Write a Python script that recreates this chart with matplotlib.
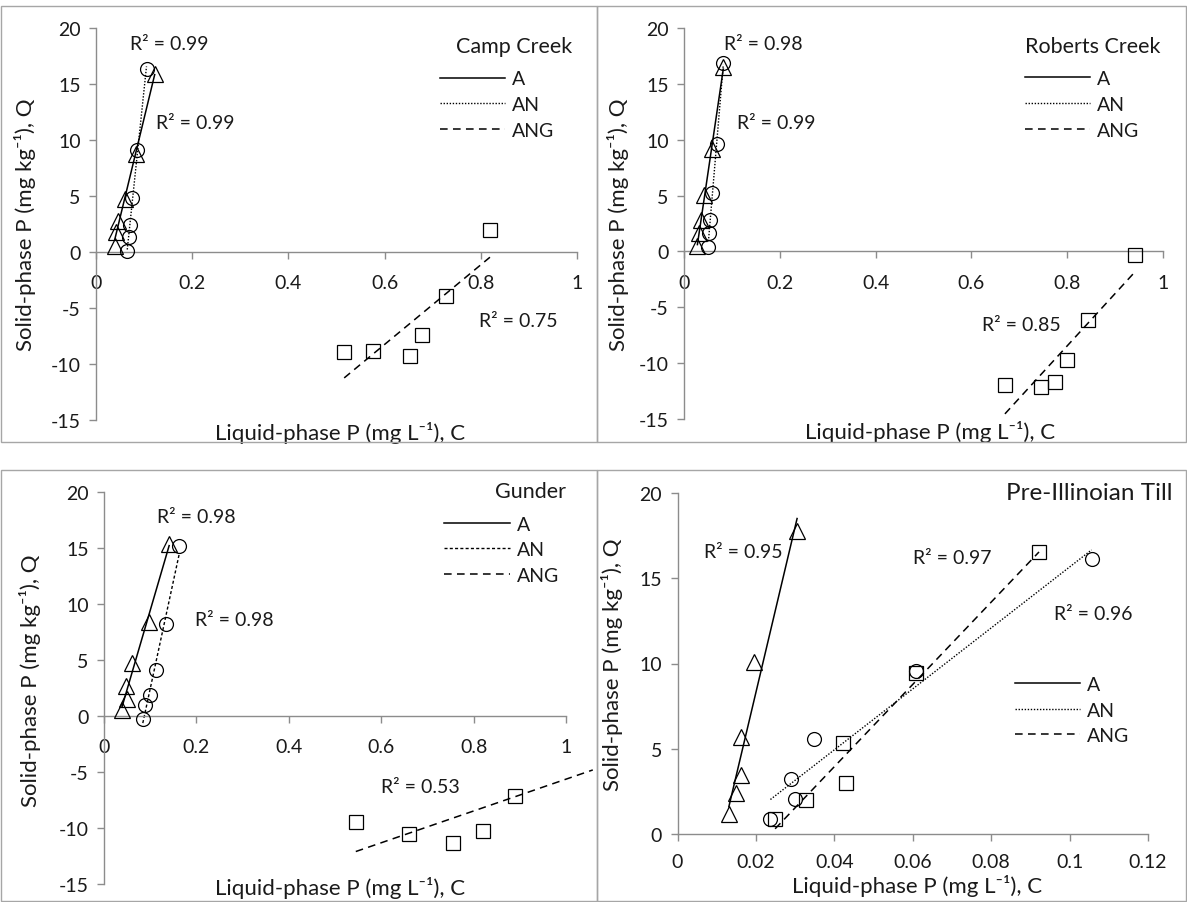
import numpy as np
import matplotlib
matplotlib.use("Agg")
import matplotlib.pyplot as plt
from matplotlib.patches import Rectangle
from matplotlib.lines import Line2D

plt.rcParams['font.family'] = ['Lato', 'DejaVu Sans']

# ---------------- data ----------------
series_names = ["A", "AN", "ANG"]

# Camp Creek
cc_A_C = [0.039, 0.041, 0.046, 0.060, 0.083, 0.122]
cc_A_Q = [0.57, 1.76, 2.80, 4.74, 8.76, 15.9]
cc_AN_C = [0.065, 0.069, 0.070, 0.075, 0.086, 0.105]
cc_AN_Q = [0.06, 1.31, 2.41, 4.80, 9.15, 16.3]
cc_ANG_C = [0.516, 0.575, 0.653, 0.678, 0.727, 0.819]
cc_ANG_Q = [-8.93, -8.84, -9.29, -7.41, -3.93, 1.96]
cc_r2 = ["R² = 0.99", "R² = 0.99", "R² = 0.75"]

# Roberts Creek
rc_A_C = [0.028, 0.031, 0.036, 0.042, 0.059, 0.082]
rc_A_Q = [0.45, 1.65, 2.85, 5.07, 9.15, 16.5]
rc_AN_C = [0.051, 0.052, 0.054, 0.059, 0.069, 0.082]
rc_AN_Q = [0.39, 1.65, 2.79, 5.19, 9.6, 16.9]
rc_ANG_C = [0.670, 0.746, 0.774, 0.799, 0.844, 0.941]
rc_ANG_Q = [-11.92, -12.13, -11.68, -9.73, -6.15, -0.33]
rc_r2 = ["R² = 0.98", "R² = 0.99", "R² = 0.85"]

# Gunder
gu_A_C = [0.039, 0.050, 0.048, 0.060, 0.097, 0.141]
gu_A_Q = [0.54, 1.5, 2.68, 4.76, 8.39, 15.4]
gu_AN_C = [0.084, 0.089, 0.0995, 0.112, 0.134, 0.163]
gu_AN_Q = [-0.27, 1.0, 1.90, 4.14, 8.24, 15.2]
gu_ANG_C = [0.545, 0.660, 0.755, 0.820, 0.890]
gu_ANG_Q = [-9.5, -10.5, -11.3, -10.3, -7.1]
# ANG trendline (slope, intercept); runs to the chart edge
gu_ANG_trend = (14.2, -19.84)
gu_r2 = ["R² = 0.98", "R² = 0.98", "R² = 0.53"]

# Pre-Illinoian Till
pi_A_C = [0.0131, 0.0149, 0.0162, 0.0162, 0.0195, 0.0305]
pi_A_Q = [1.15, 2.39, 3.44, 5.66, 10.06, 17.8]
pi_AN_C = [0.0237, 0.0300, 0.0289, 0.0348, 0.0608, 0.1056]
pi_AN_Q = [0.90, 2.07, 3.25, 5.56, 9.57, 16.1]
pi_ANG_C = [0.0249, 0.0329, 0.0430, 0.0421, 0.0608, 0.0922]
pi_ANG_Q = [0.90, 2.00, 2.97, 5.32, 9.43, 16.56]
pi_r2 = ["R² = 0.95", "R² = 0.96", "R² = 0.97"]

panel_titles = ["Camp Creek", "Roberts Creek", "Gunder", "Pre-Illinoian Till"]
xlabel = "Liquid-phase P (mg L\u207b\u00b9), C"
ylabel = "Solid-phase P (mg kg\u207b\u00b9), Q"

# ---------------- styling ----------------
W, H = 1187, 903
fig = plt.figure(figsize=(W / 100, H / 100), dpi=100)
AX_COL = '#8c8c8c'
TXT = '#1a1a1a'
FS_TICK = 14
FS_R2 = 14
FS_LEG = 14
FS_TITLE = 15.5
FS_LAB = 16

# panel borders (pixel boxes)
for (x0, y0, x1, y1) in [(1, 7, 597, 443), (597, 7, 1186, 443),
                         (1, 471, 597, 902), (597, 471, 1186, 902)]:
    fig.patches.append(Rectangle((x0 / W, 1 - y1 / H), (x1 - x0) / W, (y1 - y0) / H,
                                 transform=fig.transFigure, fill=False,
                                 edgecolor='#a6a6a6', lw=1.0, zorder=5))


def px_axes(l, r, t, b):
    return fig.add_axes([l / W, 1 - b / H, (r - l) / W, (b - t) / H])


def style_axes(ax, xlim, ylim, xticks, yticks, xtl, ytl):
    ax.set_xlim(*xlim)
    ax.set_ylim(*ylim)
    for s in ['top', 'right']:
        ax.spines[s].set_visible(False)
    ax.spines['bottom'].set_position(('data', 0))
    for s in ['left', 'bottom']:
        ax.spines[s].set_color(AX_COL)
        ax.spines[s].set_linewidth(1.0)
    ax.set_xticks(xticks)
    ax.set_xticklabels(xtl)
    ax.set_yticks(yticks)
    ax.set_yticklabels(ytl)
    ax.tick_params(axis='x', direction='out', length=5, width=1, color=AX_COL,
                   labelsize=FS_TICK, labelcolor=TXT, pad=11)
    ax.tick_params(axis='y', direction='out', length=5, width=1, color=AX_COL,
                   labelsize=FS_TICK, labelcolor=TXT, pad=6)
    ax.patch.set_alpha(0)


MK = dict(A=dict(marker='^', ms=11), AN=dict(marker='o', ms=10), ANG=dict(marker='s', ms=10))


def draw_series(ax, C, Q, name, ls, lw=1.1, x_end=None, trend=None):
    C = np.asarray(C); Q = np.asarray(Q)
    ax.plot(C, Q, linestyle='none', mfc='none', mec='black', mew=0.9,
            clip_on=False, zorder=3, **MK[name])
    if trend is None:
        k, b = np.polyfit(C, Q, 1)
    else:
        k, b = trend
    xs = np.array([C.min(), C.max() if x_end is None else x_end])
    ax.plot(xs, k * xs + b, color='black', linestyle=ls, lw=lw, zorder=2,
            clip_on=False)


def add_legend(ax, styles, x, y, lws):
    handles = [Line2D([], [], color='black', linestyle=s, lw=w) for s, w in zip(styles, lws)]
    ax.legend(handles, series_names, loc='upper left', bbox_to_anchor=(x, y),
              bbox_transform=ax.transAxes, frameon=False, fontsize=FS_LEG,
              handlelength=3.35, handletextpad=0.36, labelspacing=0.45,
              borderpad=0, borderaxespad=0, labelcolor=TXT)


def rtext(ax, x, y, s, size=FS_R2, ha='center'):
    ax.text(x, y, s, fontsize=size, color=TXT, ha=ha, va='center')


DOT = (0, (1, 1.2))
DASH = (0, (5, 3.5))
SDASH = (0, (2.2, 1.6))

big_xt = [0, 0.2, 0.4, 0.6, 0.8, 1.0]
big_xtl = ["0", "0.2", "0.4", "0.6", "0.8", "1"]
big_yt = [-15, -10, -5, 0, 5, 10, 15, 20]
big_ytl = [str(v) for v in big_yt]


def axis_labels(ax, xl_pos, yl_pos):
    ax.text(xl_pos[0], xl_pos[1], xlabel, transform=ax.transAxes, fontsize=FS_LAB,
            color=TXT, ha='center', va='center')
    ax.text(yl_pos[0], yl_pos[1], ylabel, transform=ax.transAxes, fontsize=FS_LAB,
            color=TXT, ha='center', va='center', rotation=90)


# ---- Camp Creek ----
ax = px_axes(96, 577, 29, 421)
style_axes(ax, (0, 1), (-15, 20), big_xt, big_yt, big_xtl, big_ytl)
draw_series(ax, cc_A_C, cc_A_Q, 'A', '-')
draw_series(ax, cc_AN_C, cc_AN_Q, 'AN', DOT, lw=1.0)
draw_series(ax, cc_ANG_C, cc_ANG_Q, 'ANG', DASH)
rtext(ax, 0.153, 18.6, cc_r2[0])
rtext(ax, 0.206, 11.6, cc_r2[1])
rtext(ax, 0.877, -6.1, cc_r2[2])
rtext(ax, 0.99, 18.4, panel_titles[0], size=FS_TITLE, ha='right')
add_legend(ax, ['-', DOT, DASH], 0.715, 0.892, [1.1, 1.0, 1.1])
axis_labels(ax, (0.507, -0.03), (-0.148, 0.5))

# ---- Roberts Creek ----
ax = px_axes(684, 1163, 29, 420)
style_axes(ax, (0, 1), (-15, 20), big_xt, big_yt, big_xtl, big_ytl)
draw_series(ax, rc_A_C, rc_A_Q, 'A', '-')
draw_series(ax, rc_AN_C, rc_AN_Q, 'AN', DOT, lw=1.0)
draw_series(ax, rc_ANG_C, rc_ANG_Q, 'ANG', DASH)
rtext(ax, 0.165, 18.6, rc_r2[0])
rtext(ax, 0.193, 11.5, rc_r2[1])
rtext(ax, 0.705, -6.5, rc_r2[2])
rtext(ax, 0.994, 18.4, panel_titles[1], size=FS_TITLE, ha='right')
add_legend(ax, ['-', DOT, DASH], 0.712, 0.892, [1.1, 1.0, 1.1])
axis_labels(ax, (0.514, -0.03), (-0.138, 0.5))

# ---- Gunder ----
ax = px_axes(104, 566, 493, 885)
style_axes(ax, (0, 1), (-15, 20), big_xt, big_yt, big_xtl, big_ytl)
draw_series(ax, gu_A_C, gu_A_Q, 'A', '-')
draw_series(ax, gu_AN_C, gu_AN_Q, 'AN', SDASH, lw=1.0)
draw_series(ax, gu_ANG_C, gu_ANG_Q, 'ANG', DASH, x_end=1.058, trend=gu_ANG_trend)
rtext(ax, 0.20, 17.8, gu_r2[0])
rtext(ax, 0.281, 8.6, gu_r2[1])
rtext(ax, 0.684, -6.3, gu_r2[2])
rtext(ax, 1.0, 20.1, panel_titles[2], size=FS_TITLE, ha='right')
add_legend(ax, ['-', SDASH, DASH], 0.737, 0.94, [1.1, 1.0, 1.1])
axis_labels(ax, (0.51, -0.008), (-0.16, 0.52))

# ---- Pre-Illinoian Till ----
ax = px_axes(677.5, 1148, 494, 835)
pxt = [0, 0.02, 0.04, 0.06, 0.08, 0.10, 0.12]
pxtl = ["0", "0.02", "0.04", "0.06", "0.08", "0.1", "0.12"]
pyt = [0, 5, 10, 15, 20]
style_axes(ax, (0, 0.12), (0, 20), pxt, pyt, pxtl, [str(v) for v in pyt])
ax.tick_params(axis='x', pad=9)
draw_series(ax, pi_A_C, pi_A_Q, 'A', '-')
draw_series(ax, pi_AN_C, pi_AN_Q, 'AN', DOT, lw=1.0)
draw_series(ax, pi_ANG_C, pi_ANG_Q, 'ANG', DASH)
rtext(ax, 0.0167, 16.55, pi_r2[0])
rtext(ax, 0.106, 12.95, pi_r2[1])
rtext(ax, 0.0701, 16.2, pi_r2[2])
rtext(ax, 0.1262, 20.0, panel_titles[3], size=17.5, ha='right')
add_legend(ax, ['-', DOT, DASH], 0.717, 0.464, [1.1, 1.0, 1.1])
axis_labels(ax, (0.51, -0.15), (-0.139, 0.5))

fig.savefig("out.png", dpi=100)
